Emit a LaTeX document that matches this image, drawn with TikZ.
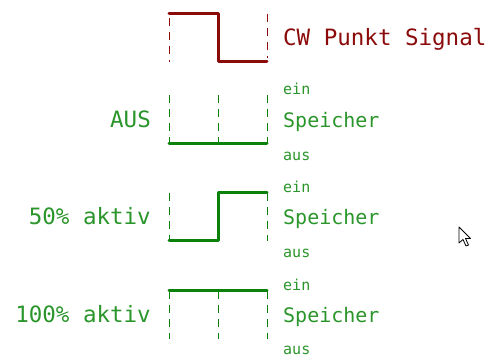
\documentclass[tikz,border=0pt]{standalone}
\usepackage{fontspec}
\newfontfamily\vf{DejaVu Sans Mono}
\definecolor{cwred}{HTML}{8B0A0A}
\definecolor{sgreen}{HTML}{0A820A}
\definecolor{tgreen}{HTML}{2A952A}
\begin{document}
\begin{tikzpicture}[x=1pt,y=-1pt,
  wave/.style={line width=3pt,line cap=round,line join=round},
  guide/.style={line width=1pt,dash pattern=on 8pt off 6pt},
  big/.style={inner sep=0pt,font=\vf\fontsize{22.5}{24}\selectfont},
  mid/.style={inner sep=0pt,font=\vf\fontsize{20}{22}\selectfont},
  small/.style={inner sep=0pt,font=\vf\fontsize{15}{16}\selectfont}]
\useasboundingbox (0,0) rectangle (491,358);
% Row 1: CW Punkt Signal
\coordinate (a1) at (169,14); \coordinate (a2) at (218,14);
\coordinate (a3) at (218,62); \coordinate (a4) at (267,62);
\coordinate (a5) at (169,62); \coordinate (a6) at (267,14);
\draw[cwred,guide] (169,18) -- (a5);
\draw[cwred,guide] (a6) -- (267,58);
\draw[cwred,wave] (a1) -- (a2) -- (a3) -- (a4);
\node[big,text=cwred,anchor=base west] (cw) at (283,46) {CW Punkt Signal};
% Row 2: AUS
\coordinate (b1) at (169,144); \coordinate (b2) at (218,144); \coordinate (b3) at (267,144);
\draw[sgreen,guide] (169,95) -- (b1);
\draw[sgreen,guide] (218,95) -- (b2);
\draw[sgreen,guide] (267,95) -- (b3);
\draw[sgreen,wave] (b1) -- (b3);
\node[big,text=tgreen,anchor=base east] (aus2) at (151,128) {AUS};
\node[small,text=tgreen,anchor=base west] (ein2) at (283,95) {ein};
\node[mid,text=tgreen,anchor=base west] (sp2) at (283,128) {Speicher};
\node[small,text=tgreen,anchor=base west] (au2) at (283,161) {aus};
% Row 3: 50% aktiv
\coordinate (c1) at (169,241); \coordinate (c2) at (218,241);
\coordinate (c3) at (218,193); \coordinate (c4) at (267,193);
\draw[sgreen,guide] (169,193) -- (c1);
\draw[sgreen,guide] (c4) -- (267,241);
\draw[sgreen,wave] (c1) -- (c2) -- (c3) -- (c4);
\node[big,text=tgreen,anchor=base east] (p50) at (151,225) {50\% aktiv};
\node[small,text=tgreen,anchor=base west] (ein3) at (283,193) {ein};
\node[mid,text=tgreen,anchor=base west] (sp3) at (283,225) {Speicher};
\node[small,text=tgreen,anchor=base west] (au3) at (283,258) {aus};
% Row 4: 100% aktiv
\coordinate (d1) at (169,291); \coordinate (d2) at (218,291); \coordinate (d3) at (267,291);
\draw[sgreen,guide] (d1) -- (169,339);
\draw[sgreen,guide] (d2) -- (218,339);
\draw[sgreen,guide] (d3) -- (267,339);
\draw[sgreen,wave] (d1) -- (d3);
\node[big,text=tgreen,anchor=base east] (p100) at (151,323) {100\% aktiv};
\node[small,text=tgreen,anchor=base west] (ein4) at (283,291) {ein};
\node[mid,text=tgreen,anchor=base west] (sp4) at (283,323) {Speicher};
\node[small,text=tgreen,anchor=base west] (au4) at (283,355) {aus};
% mouse cursor
\draw[black,fill=white,line width=0.8pt,line join=round]
  (459,227) -- (459,243) -- (463,239.5) -- (466,246) -- (468.5,245) -- (465.5,238.5) -- (470.5,238.5) -- cycle;
\end{tikzpicture}
\end{document}
